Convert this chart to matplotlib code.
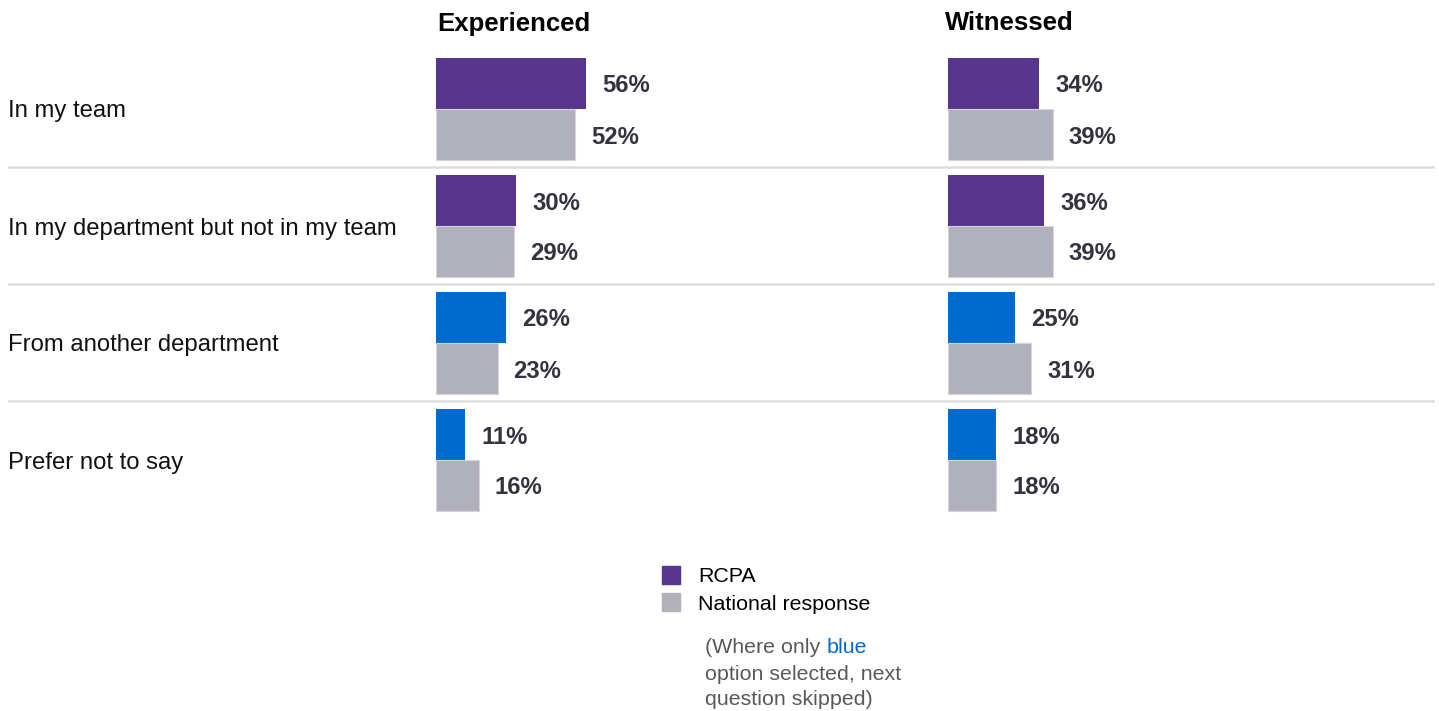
import matplotlib
matplotlib.use("Agg")
import matplotlib.pyplot as plt
from matplotlib.patches import Rectangle

plt.rcParams['font.family'] = ['Liberation Sans', 'DejaVu Sans']

categories = ["In my team", "In my department but not in my team",
              "From another department", "Prefer not to say"]
exp_rcpa = [56, 30, 26, 11]
exp_nat = [52, 29, 23, 16]
wit_rcpa = [34, 36, 25, 18]
wit_nat = [39, 39, 31, 18]
panel_titles = ["Experienced", "Witnessed"]
legend_labels = ["RCPA", "National response"]

purple = '#58348c'
blue = '#006acf'
grey = '#b1b1bc'
label_col = '#333340'
rcpa_colors = [purple, purple, blue, blue]

W, H = 1439, 711
fig = plt.figure(figsize=(W / 100, H / 100), dpi=100)

# layout in pixels
top_px, row_px = 50, 117
bottom = 1 - (top_px + 4 * row_px) / H
height = 4 * row_px / H
px_per_pct = 2.68
dy = 2.5  # text sits a bit low in the reference

# background axes: separators + row labels
bg = fig.add_axes([8 / W, bottom, 1427 / W, height])
bg.set_xlim(0, 1)
bg.set_ylim(4, 0)
bg.axis('off')
for i in range(1, 4):
    bg.axhline(i, color='#dddddd', lw=1.8)
for i, c in enumerate(categories):
    bg.text(0, i + (109 + dy - top_px) / row_px, c, fontsize=17.2,
            color='#111111', va='center', ha='left')

y_rcpa = [i + (83.5 - top_px) / row_px for i in range(4)]
y_nat = [i + (134.5 - top_px) / row_px for i in range(4)]
bh = 51 / row_px

panels = [(436, exp_rcpa, exp_nat, 437), (948, wit_rcpa, wit_nat, 945)]
for (left, rc, nat, tx), title in zip(panels, panel_titles):
    wpx = 420
    ax = fig.add_axes([left / W, bottom, wpx / W, height])
    ax.set_xlim(0, wpx / px_per_pct)
    ax.set_ylim(4, 0)
    ax.axis('off')
    ax.barh(y_rcpa, rc, height=bh, color=rcpa_colors)
    ax.barh(y_nat, nat, height=bh, color=grey, edgecolor='#d4d4da', lw=0.8)
    for ys, vals in ((y_rcpa, rc), (y_nat, nat)):
        for y, v in zip(ys, vals):
            ax.annotate(f'{v}%', xy=(v, y), xytext=(11.5, -dy * 0.72),
                        textcoords='offset points', fontsize=17.2,
                        fontweight='bold', color=label_col,
                        va='center', ha='left')
    fig.text(tx / W, 1 - (21 + dy) / H, title, fontsize=18.5,
             fontweight='bold', va='center', ha='left', color='black')

# legend
for (yc, lab), col in zip([(575, legend_labels[0]), (602, legend_labels[1])],
                          [purple, grey]):
    fig.patches.append(Rectangle((662 / W, 1 - (yc + 9) / H), 18 / W, 18 / H,
                                 transform=fig.transFigure, color=col))
    fig.text(698 / W, 1 - (yc + 2) / H, lab, fontsize=15.4, va='center',
             ha='left', color='black')

note_grey = '#595959'
t1 = fig.text(705 / W, 1 - 647.5 / H, "(Where only", fontsize=15.4,
              va='center', ha='left', color=note_grey)
fig.text(0, 0, "", visible=False)
plt.annotate("blue", xy=(1, 0.5), xycoords=t1, xytext=(4.3, 0),
             textcoords='offset points', fontsize=15.4, color=blue,
             va='center', ha='left', annotation_clip=False)
fig.text(705 / W, 1 - 674 / H, "option selected, next", fontsize=15.4,
         va='center', ha='left', color=note_grey)
fig.text(705 / W, 1 - 699.5 / H, "question skipped)", fontsize=15.4,
         va='center', ha='left', color=note_grey)

fig.savefig("out.png", dpi=100, facecolor='white')
